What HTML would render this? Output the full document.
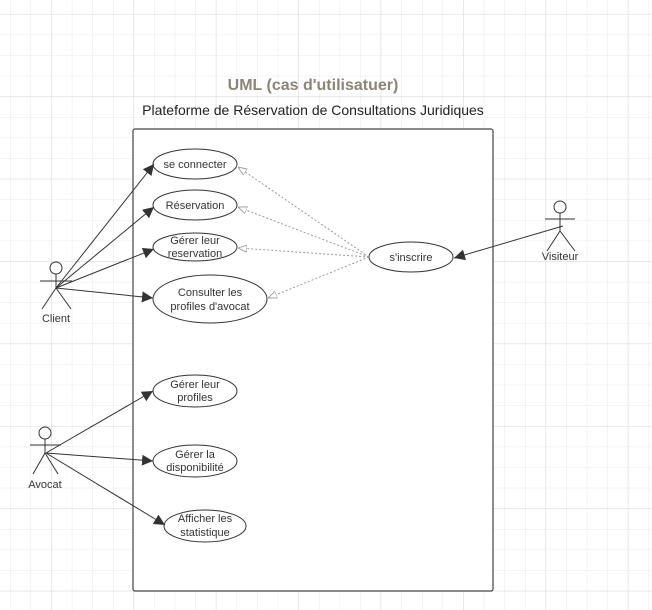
<!DOCTYPE html>
<html><head><meta charset="utf-8"><style>
html,body{margin:0;padding:0;background:#fff;}
svg{display:block;font-family:"Liberation Sans",sans-serif;}
</style></head><body>
<svg width="652" height="610" viewBox="0 0 652 610" xmlns="http://www.w3.org/2000/svg">
<defs>
<pattern id="g" x="10" y="14" width="20.6" height="20.6" patternUnits="userSpaceOnUse">
<path d="M0 0V20.6M0 0H20.6" stroke="#e8e8e8" stroke-width="1" fill="none"/>
</pattern>
<pattern id="G" x="51" y="14" width="82.4" height="82.4" patternUnits="userSpaceOnUse">
<path d="M0 0V82.4M0 0H82.4" stroke="#dadada" stroke-width="1" fill="none"/>
</pattern>
<marker id="a" viewBox="0 0 10 10" refX="10" refY="5" markerWidth="11" markerHeight="11" markerUnits="userSpaceOnUse" orient="auto">
<path d="M0 0L10 5L0 10Z" fill="#333"/>
</marker>
<marker id="h" viewBox="0 0 10 10" refX="10" refY="5" markerWidth="9" markerHeight="9" markerUnits="userSpaceOnUse" orient="auto">
<path d="M0 1L10 5L0 9Z" fill="#fff" stroke="#999" stroke-width="1"/>
</marker>
</defs>
<rect width="652" height="610" fill="url(#g)"/>
<rect width="652" height="610" fill="url(#G)"/>
<text x="313" y="90" text-anchor="middle" font-size="16" font-weight="bold" fill="#8c8474">UML (cas d'utilisatuer)</text>
<text x="313" y="115" text-anchor="middle" font-size="14" fill="#222">Plateforme de Réservation de Consultations Juridiques</text>
<rect x="133" y="129" width="360" height="462" rx="2" fill="#fff" stroke="#444" stroke-width="1.2"/>
<g fill="#fff" stroke="#333" stroke-width="1">
<ellipse cx="195" cy="164" rx="42" ry="15"/>
<ellipse cx="195" cy="205" rx="42" ry="15"/>
<ellipse cx="195" cy="247" rx="42" ry="14"/>
<ellipse cx="210" cy="299" rx="57" ry="24"/>
<ellipse cx="195" cy="391" rx="42" ry="16"/>
<ellipse cx="195" cy="461" rx="42" ry="16"/>
<ellipse cx="205" cy="526" rx="41" ry="16"/>
<ellipse cx="411" cy="257" rx="42" ry="15"/>
</g>
<g font-size="11" fill="#333" text-anchor="middle">
<text x="195" y="168">se connecter</text>
<text x="195" y="209">Réservation</text>
<text x="195" y="244">Gérer leur</text><text x="195" y="257">reservation</text>
<text x="210" y="296">Consulter les</text><text x="210" y="310">profiles d'avocat</text>
<text x="195" y="388">Gérer leur</text><text x="195" y="401">profiles</text>
<text x="195" y="458">Gérer la</text><text x="195" y="471">disponibilité</text>
<text x="205" y="522">Afficher les</text><text x="205" y="536">statistique</text>
<text x="411" y="261">s'inscrire</text>
</g>
<g stroke="#333" stroke-width="1" fill="none" marker-end="url(#a)">
<line x1="56" y1="288" x2="154" y2="164"/>
<line x1="56" y1="288" x2="154" y2="207"/>
<line x1="56" y1="288" x2="154" y2="249"/>
<line x1="56" y1="288" x2="153" y2="298"/>
<line x1="46" y1="453" x2="153" y2="391"/>
<line x1="46" y1="453" x2="153" y2="461"/>
<line x1="46" y1="453" x2="165" y2="525"/>
<line x1="563" y1="226" x2="454" y2="258"/>
</g>
<g stroke="#999" stroke-width="1" stroke-dasharray="2,2" fill="none" marker-end="url(#h)">
<line x1="369" y1="257" x2="238" y2="167"/>
<line x1="369" y1="257" x2="238" y2="207"/>
<line x1="369" y1="257" x2="238" y2="248"/>
<line x1="369" y1="257" x2="268" y2="298"/>
</g>
<g stroke="#333" stroke-width="1" fill="none">
<circle cx="56" cy="268" r="6" fill="#fff"/><path d="M40 281H72M56 274V288M56 288L42 309M56 288L71 309"/>
<circle cx="45" cy="433" r="6" fill="#fff"/><path d="M30 445H61M45 439V453M45 453L33 474M45 453L58 474"/>
<circle cx="560" cy="207" r="6" fill="#fff"/><path d="M545 219H575M560 213V231M560 231L547 251M560 231L575 251"/>
</g>
<g font-size="11" fill="#333" text-anchor="middle">
<text x="56" y="322">Client</text>
<text x="45" y="488">Avocat</text>
<text x="560" y="260">Visiteur</text>
</g>
</svg>
</body></html>
